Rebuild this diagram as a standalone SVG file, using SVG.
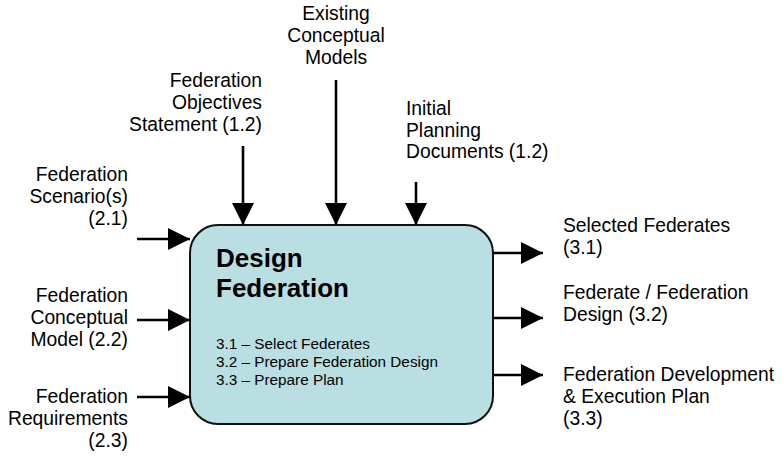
<svg xmlns="http://www.w3.org/2000/svg" width="783" height="457" viewBox="0 0 783 457">
  <defs>
    <marker id="ah" markerUnits="userSpaceOnUse" markerWidth="22" markerHeight="22" refX="22" refY="11" orient="auto">
      <path d="M0,0 L22,11 L0,22 Z" fill="#000"/>
    </marker>
    <style>
      .lbl { font-family: "Liberation Sans", Arial, sans-serif; font-size: 19.3px; fill: #000; }
      .r { text-anchor: end; }
      .c { text-anchor: middle; }
      .conn line { stroke: #000; stroke-width: 2.6; marker-end: url(#ah); }
      .box { fill: #b9dfe3; stroke: #111; stroke-width: 2; }
      .title { font-family: "Liberation Sans", Arial, sans-serif; font-size: 26px; font-weight: bold; fill: #000; }
      .sub { font-family: "Liberation Sans", Arial, sans-serif; font-size: 15.3px; fill: #000; }
    </style>
  </defs>
  <rect width="783" height="457" fill="#fff"/>

  <g id="connectors" class="conn">
    <line x1="243" y1="146" x2="243" y2="225"/>
    <line x1="336" y1="80" x2="336" y2="225"/>
    <line x1="416" y1="182" x2="416" y2="225"/>
    <line x1="137" y1="239" x2="190" y2="239"/>
    <line x1="137" y1="320" x2="190" y2="320"/>
    <line x1="137" y1="397" x2="190" y2="397"/>
    <line x1="493" y1="253" x2="543" y2="253"/>
    <line x1="493" y1="318" x2="543" y2="318"/>
    <line x1="493" y1="375" x2="543" y2="375"/>
  </g>

  <g id="design-federation">
    <rect class="box" x="190" y="225" width="303" height="199" rx="28" ry="28"/>
    <text class="title" x="216" y="267">Design</text>
    <text class="title" x="216" y="297">Federation</text>
    <text class="sub" x="216" y="349">3.1 – Select Federates</text>
    <text class="sub" x="216" y="367">3.2 – Prepare Federation Design</text>
    <text class="sub" x="216" y="385">3.3 – Prepare Plan</text>
  </g>

  <g id="existing-conceptual-models">
    <text class="lbl c" x="336" y="20">Existing</text>
    <text class="lbl c" x="336" y="42">Conceptual</text>
    <text class="lbl c" x="336" y="64">Models</text>
  </g>
  <g id="federation-objectives">
    <text class="lbl r" x="262" y="87">Federation</text>
    <text class="lbl r" x="262" y="109">Objectives</text>
    <text class="lbl r" x="262" y="131">Statement (1.2)</text>
  </g>
  <g id="initial-planning">
    <text class="lbl" x="406" y="115">Initial</text>
    <text class="lbl" x="406" y="137">Planning</text>
    <text class="lbl" x="406" y="158">Documents (1.2)</text>
  </g>
  <g id="federation-scenarios">
    <text class="lbl r" x="128" y="181">Federation</text>
    <text class="lbl r" x="128" y="203">Scenario(s)</text>
    <text class="lbl r" x="128" y="225">(2.1)</text>
  </g>
  <g id="federation-conceptual-model">
    <text class="lbl r" x="128" y="302">Federation</text>
    <text class="lbl r" x="128" y="324">Conceptual</text>
    <text class="lbl r" x="128" y="346">Model (2.2)</text>
  </g>
  <g id="federation-requirements">
    <text class="lbl r" x="128" y="403">Federation</text>
    <text class="lbl r" x="128" y="425">Requirements</text>
    <text class="lbl r" x="128" y="447">(2.3)</text>
  </g>
  <g id="selected-federates">
    <text class="lbl" x="563" y="232">Selected Federates</text>
    <text class="lbl" x="563" y="254">(3.1)</text>
  </g>
  <g id="federation-design">
    <text class="lbl" x="563" y="299">Federate / Federation</text>
    <text class="lbl" x="563" y="321">Design (3.2)</text>
  </g>
  <g id="development-plan">
    <text class="lbl" x="563" y="381">Federation Development</text>
    <text class="lbl" x="563" y="403">&amp; Execution Plan</text>
    <text class="lbl" x="563" y="425">(3.3)</text>
  </g>
</svg>
